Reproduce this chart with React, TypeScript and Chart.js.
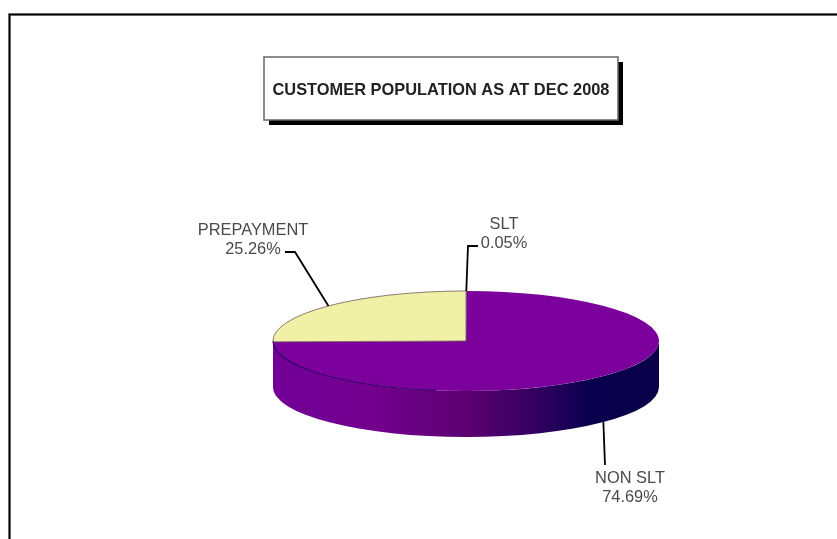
import React, { useEffect, useRef } from "react";
import { Chart, registerables } from "chart.js";

Chart.register(...registerables);

const categories = ["SLT", "NON SLT", "PREPAYMENT"];
const shares = [0.05, 74.69, 25.26];
const sliceColors = ["#7b009c", "#7b009c", "#f0f0a6"];
const titleText = "CUSTOMER POPULATION AS AT DEC 2008";

// Flattening of the disc and height of its rim, in pixels.
const TILT = 50 / 193;
const DEPTH = 46;

// Callout routing per slice: elbow and stub of the leader, label centre and baselines.
const callouts = [
  { elbow: [468, 246], stub: [478, 246], labelX: 504, nameY: 229, valueY: 248, onRim: false },
  { elbow: [605, 465], stub: null, labelX: 630, nameY: 483, valueY: 502, onRim: true },
  { elbow: [295, 252], stub: [285, 252], labelX: 253, nameY: 235, valueY: 254, onRim: false },
];

const pseudo3d = {
  id: "pseudo3d",
  beforeDraw(chart: any) {
    const { ctx, width, height } = chart;
    ctx.save();
    ctx.fillStyle = "#ffffff";
    ctx.fillRect(0, 0, width, height);

    // Page frame: open at the right and bottom edges.
    ctx.lineCap = "butt";
    for (const [color, w] of [["#8c8c8c", 3], ["#000000", 1.5]] as [string, number][]) {
      ctx.strokeStyle = color;
      ctx.lineWidth = w;
      ctx.beginPath();
      ctx.moveTo(9.5, height);
      ctx.lineTo(9.5, 14.5);
      ctx.lineTo(width, 14.5);
      ctx.stroke();
    }

    // Title box with its hard drop shadow.
    ctx.fillStyle = "#000000";
    ctx.fillRect(269, 62, 354, 63);
    ctx.fillStyle = "#ffffff";
    ctx.strokeStyle = "#666666";
    ctx.lineWidth = 1.5;
    ctx.fillRect(264, 57, 354, 63);
    ctx.strokeRect(264, 57, 354, 63);
    ctx.fillStyle = "#222222";
    ctx.font = "bold 16.4px 'Liberation Sans', Arial, sans-serif";
    ctx.textAlign = "center";
    ctx.textBaseline = "alphabetic";
    ctx.fillText(titleText, 441, 95);
    ctx.restore();
  },
  beforeDatasetsDraw(chart: any) {
    const { ctx } = chart;
    const arc = chart.getDatasetMeta(0).data[0];
    const { x: cx, y: cy, outerRadius: r } = arc;
    const ry = r * TILT;

    // Rim of the disc: the front half of the ellipse pushed down by DEPTH.
    const wall = ctx.createLinearGradient(cx - r, 0, cx + r, 0);
    wall.addColorStop(0, "#720098");
    wall.addColorStop(0.25, "#74008f");
    wall.addColorStop(0.5, "#5c0072");
    wall.addColorStop(0.68, "#33005f");
    wall.addColorStop(0.82, "#08004f");
    wall.addColorStop(1, "#0a0048");
    ctx.save();
    ctx.fillStyle = wall;
    ctx.beginPath();
    ctx.ellipse(cx, cy, r, ry, 0, 0, Math.PI);
    ctx.lineTo(cx - r, cy + DEPTH);
    ctx.ellipse(cx, cy + DEPTH, r, ry, 0, Math.PI, 0, true);
    ctx.closePath();
    ctx.fill();
    ctx.restore();

    // The library's arcs are round; squash them into the disc's top face.
    ctx.save();
    ctx.translate(0, cy);
    ctx.scale(1, TILT);
    ctx.translate(0, -cy);
  },
  afterDatasetsDraw(chart: any) {
    const { ctx } = chart;
    ctx.restore();

    const arcs = chart.getDatasetMeta(0).data;
    const { x: cx, y: cy, outerRadius: r } = arcs[0];
    const ry = r * TILT;

    // Seam between the top face and the rim, visible at the front left.
    ctx.save();
    ctx.strokeStyle = "#35006a";
    ctx.lineWidth = 1.2;
    ctx.beginPath();
    ctx.ellipse(cx, cy, r, ry, 0, Math.PI * 0.55, Math.PI);
    ctx.stroke();

    // Thin outline round the light slice.
    const light = arcs[2];
    ctx.strokeStyle = "#6e5a50";
    ctx.lineWidth = 0.8;
    ctx.beginPath();
    ctx.moveTo(cx, cy);
    ctx.ellipse(cx, cy, r, ry, 0, light.startAngle, light.endAngle);
    ctx.closePath();
    ctx.stroke();

    // Callouts: each leader starts at the middle of its slice's outer edge.
    arcs.forEach((a: any, i: number) => {
      const mid = (a.startAngle + a.endAngle) / 2;
      const c = callouts[i];
      const ax = cx + r * Math.cos(mid);
      const ay = cy + ry * Math.sin(mid) + (c.onRim ? DEPTH : 0);
      ctx.strokeStyle = "#000000";
      ctx.lineWidth = 1.8;
      ctx.beginPath();
      ctx.moveTo(ax, ay);
      ctx.lineTo(c.elbow[0], c.elbow[1]);
      if (c.stub) ctx.lineTo(c.stub[0], c.stub[1]);
      ctx.stroke();

      ctx.fillStyle = "#4a4a4a";
      ctx.font = "16.4px 'Liberation Sans', Arial, sans-serif";
      ctx.textAlign = "center";
      ctx.textBaseline = "alphabetic";
      ctx.fillText(categories[i], c.labelX, c.nameY);
      ctx.fillText(`${shares[i].toFixed(2)}%`, c.labelX, c.valueY);
    });
    ctx.restore();
  },
};

export default function App() {
  const ref = useRef<HTMLCanvasElement>(null);
  useEffect(() => {
    const chart = new Chart(ref.current!, {
      type: "pie",
      data: {
        labels: categories,
        datasets: [{ data: shares, backgroundColor: sliceColors, borderWidth: 0 }],
      },
      options: {
        animation: false,
        responsive: false,
        layout: { padding: { left: 273, right: 178, top: 148, bottom: 5 } },
        plugins: { legend: { display: false }, tooltip: { enabled: false } },
      },
      plugins: [pseudo3d],
    });
    return () => chart.destroy();
  }, []);
  return (
    <canvas
      ref={ref}
      width={837}
      height={539}
      style={{ position: "fixed", left: 0, top: 0, display: "block" }}
    />
  );
}
